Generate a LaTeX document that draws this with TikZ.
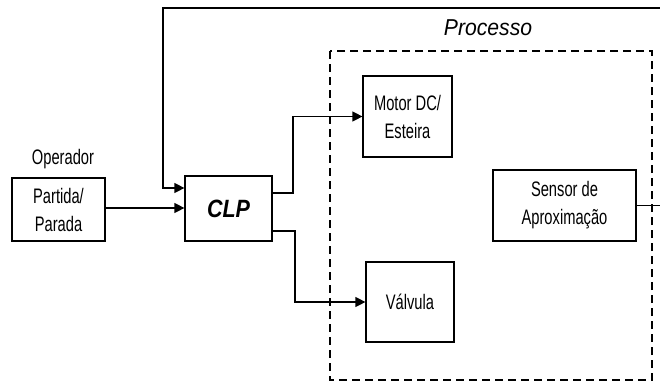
\documentclass[tikz,border=0pt]{standalone}
\usepackage{fontspec}
\setmainfont{Liberation Sans}
\newfontfamily\nfont[FakeStretch=0.7]{Liberation Sans}
\newfontfamily\bifont[FakeStretch=0.86]{Liberation Sans}
\newfontfamily\pfont[FakeStretch=0.92]{Liberation Sans}
\usetikzlibrary{arrows.meta}
\tikzset{
  blk/.style={draw, line width=1.2pt, rectangle, inner sep=0pt, align=center,
    font=\nfont\fontsize{21}{28}\selectfont},
  conn/.style={line width=1.2pt},
  arr/.style={conn, -{Triangle[length=10pt,width=10pt]}},
}
\begin{document}
\begin{tikzpicture}[x=1pt,y=-1pt]
\useasboundingbox (0,0) rectangle (660,383);
% process frame
\draw[line width=1.4pt, dash pattern=on 8pt off 5pt] (330,51) rectangle (652,380);
\node[font=\pfont\itshape\fontsize{23}{26}\selectfont] (proc) at (488,28) {Processo};
\node[font=\nfont\fontsize{21}{24}\selectfont] (oper) at (63,159) {Operador};
% blocks
\node[blk, minimum width=93pt, minimum height=63pt] (part) at (58.5,209.5) {Partida/\\Parada};
\node[blk, minimum width=87pt, minimum height=65pt, font=\bifont\bfseries\itshape\fontsize{25}{27}\selectfont] (clp) at (228.5,208.5) {CLP};
\node[blk, minimum width=89pt, minimum height=81pt] (motor) at (407.5,116.5) {Motor DC/\\Esteira};
\node[blk, minimum width=88pt, minimum height=80pt] (valv) at (410,302) {Válvula};
\node[blk, minimum width=143pt, minimum height=71pt] (sens) at (564.5,205.5) {Sensor de\\Aproximação};
% helper coordinates
\coordinate (edgeS) at (660,205.5);
\coordinate (edgeT) at (660,8);
\coordinate (fbL) at (163,8);
% connectors
\draw[arr] (part.east |- 0,208) -- (clp.west |- 0,208);
\draw[conn] (sens.east) -- (edgeS);
\draw[arr] (edgeT) -- (fbL) |- (clp.west |- 0,188);
\draw[arr] (clp.east |- 0,193) -| (293,160) |- (motor.west);
\draw[arr] (clp.east |- 0,231) -| (295,270) |- (valv.west);
\end{tikzpicture}
\end{document}
